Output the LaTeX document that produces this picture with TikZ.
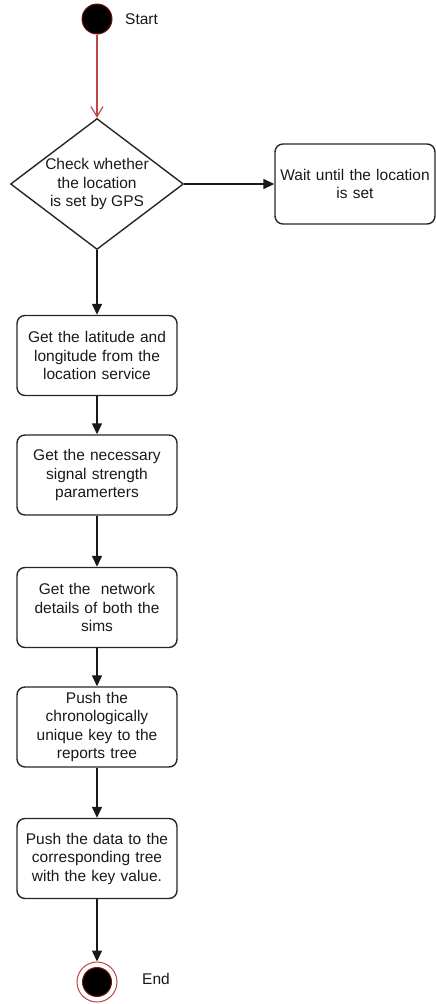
\documentclass[tikz,border=0pt]{standalone}
\usepackage{fontspec}
\setmainfont{Liberation Sans}
\usetikzlibrary{shapes.geometric,arrows.meta}
\definecolor{startred}{RGB}{120,20,20}
\definecolor{flowred}{RGB}{190,70,70}
\definecolor{inktext}{RGB}{25,25,25}
\begin{document}
\begin{tikzpicture}[x=1pt,y=-1pt,
  every node/.style={font=\fontsize{15.5}{18.5}\selectfont, align=center, inner sep=0pt, text=inktext},
  stepbox/.style={draw=black!85, line width=1.4pt, rounded corners=8pt, minimum width=160pt, minimum height=80pt, text width=150pt},
  decision/.style={draw=black!85, line width=1.4pt, diamond, minimum width=173pt, minimum height=131pt, aspect=1.32},
  flow/.style={line width=1.4pt, black!90, -{Triangle[length=11pt,width=10pt]}},
  startflow/.style={line width=1.2pt, flowred, -{Straight Barb[length=10pt,width=12pt,line width=1.2pt]}},
  labeltext/.style={anchor=west}
]
\useasboundingbox (0,0) rectangle (436,1004);

% initial and final states
\node[circle, fill=black, draw=startred, line width=1pt, minimum size=30pt] (start) at (97,19) {};
\node[labeltext] (startlbl) at (125,19) {Start};

\node[decision] (check) at (97,184) {};
\node (checktxt) at (97,184) {Check whether\\the location\\is set by GPS};

\node[stepbox, minimum width=160pt, text width=155pt] (wait) at (355,184) {Wait until the location\\is set};

\node[stepbox] (latlon) at (97,355.5) {Get the latitude and\\longitude from the\\location service};
\node[stepbox] (signal) at (97,475) {Get the necessary\\signal strength\\paramerters};
\node[stepbox] (network) at (97,607.5) {Get the\ \ network\\details of both the\\sims};
\node[stepbox] (pushkey) at (97,727) {Push the\\chronologically\\unique key to the\\reports tree};
\node[stepbox] (pushdata) at (97,858.5) {Push the data to the\\corresponding tree\\with the key value.};

\node[circle, draw=flowred, line width=1pt, fill=white, minimum size=40pt] (endring) at (97,982) {};
\node[circle, fill=black, draw=startred, line width=1pt, minimum size=29pt] (enddot) at (97,982) {};
\node[labeltext] (endlbl) at (142,979) {End};

% connectors
\draw[startflow] (start) -- (check.north);
\draw[flow] (check.east) -- (wait.west);
\draw[flow] (check.south) -- (latlon.north);
\draw[flow] (latlon) -- (signal);
\draw[flow] (signal) -- (network);
\draw[flow] (network) -- (pushkey);
\draw[flow] (pushkey) -- (pushdata);
\draw[flow] (pushdata) -- (endring);
\end{tikzpicture}
\end{document}
